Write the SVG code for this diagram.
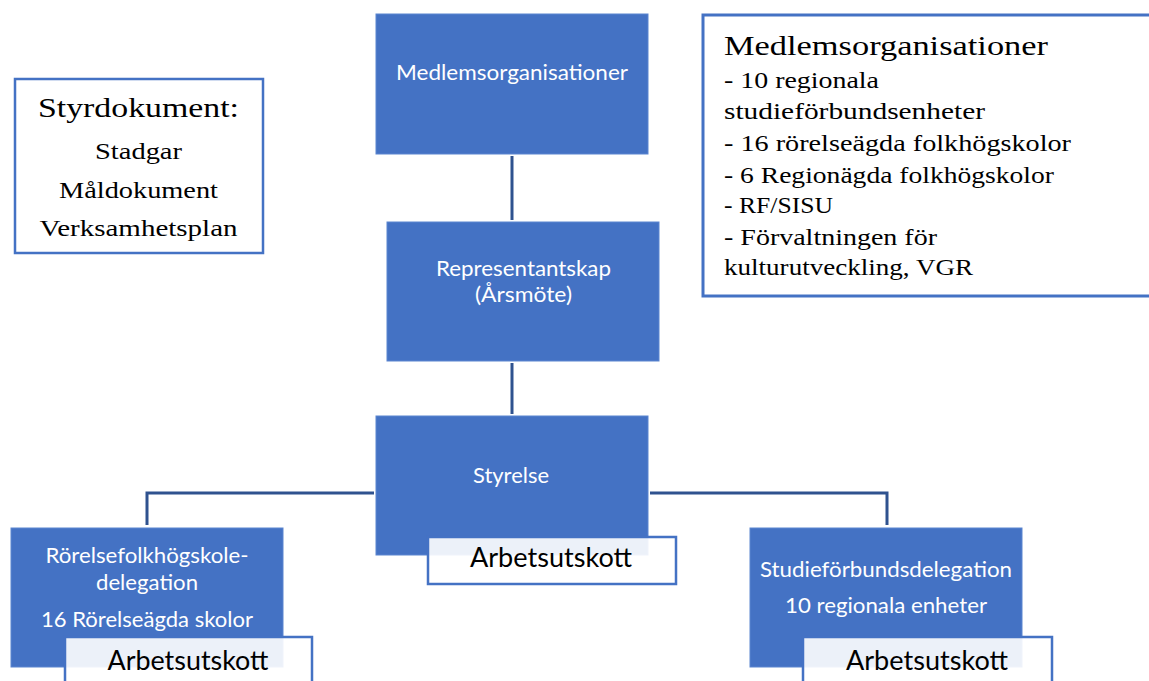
<svg xmlns="http://www.w3.org/2000/svg" width="1149" height="681" viewBox="0 0 1149 681">
<style>
.box{fill:#4472C4;stroke:#5B85D0;stroke-width:1}
.wt{fill:#ffffff;font-family:Lato,"Open Sans","Noto Sans",sans-serif;font-size:22px;text-anchor:middle}
.au{fill:#ffffff;fill-opacity:0.9;stroke:#4472C4;stroke-width:2.5}
.aut{fill:#000000;font-family:Lato,"Open Sans","Noto Sans",sans-serif;font-size:26px;text-anchor:middle}
.conn{fill:none;stroke:#2F528F;stroke-width:3}
.note{fill:#ffffff;stroke:#4472C4}
.st{fill:#000000;font-family:"Liberation Serif","DejaVu Serif",serif}
</style>
<rect width="1149" height="681" fill="#ffffff"/>
<g id="connectors">
<line class="conn" x1="512" y1="156" x2="512" y2="220"/>
<line class="conn" x1="512" y1="363" x2="512" y2="414"/>
<polyline class="conn" points="374,493 147,493 147,525"/>
<polyline class="conn" points="650,493 887,493 887,525"/>
</g>
<g id="styrdokument">
<rect class="note" x="15" y="79" width="248" height="174" stroke-width="2.5"/>
<text class="st" x="138.5" y="117" font-size="28" text-anchor="middle" textLength="201" lengthAdjust="spacingAndGlyphs">Styrdokument:</text>
<text class="st" x="138.5" y="159" font-size="23" text-anchor="middle" textLength="87" lengthAdjust="spacingAndGlyphs">Stadgar</text>
<text class="st" x="138.5" y="198" font-size="23" text-anchor="middle" textLength="159" lengthAdjust="spacingAndGlyphs">Måldokument</text>
<text class="st" x="138.5" y="236" font-size="23" text-anchor="middle" textLength="198" lengthAdjust="spacingAndGlyphs">Verksamhetsplan</text>
</g>
<g id="medlemslista">
<rect class="note" x="703" y="15" width="460" height="281" stroke-width="3"/>
<text class="st" x="724" y="55" font-size="27" textLength="324" lengthAdjust="spacingAndGlyphs">Medlemsorganisationer</text>
<text class="st" x="724" y="88" font-size="23" textLength="155" lengthAdjust="spacingAndGlyphs">- 10 regionala</text>
<text class="st" x="724" y="119" font-size="23" textLength="261" lengthAdjust="spacingAndGlyphs">studieförbundsenheter</text>
<text class="st" x="724" y="151" font-size="23" textLength="347" lengthAdjust="spacingAndGlyphs">- 16 rörelseägda folkhögskolor</text>
<text class="st" x="724" y="183" font-size="23" textLength="330" lengthAdjust="spacingAndGlyphs">- 6 Regionägda folkhögskolor</text>
<text class="st" x="724" y="213" font-size="23" textLength="109" lengthAdjust="spacingAndGlyphs">- RF/SISU</text>
<text class="st" x="724" y="245" font-size="23" textLength="213" lengthAdjust="spacingAndGlyphs">- Förvaltningen för</text>
<text class="st" x="724" y="275" font-size="23" textLength="249" lengthAdjust="spacingAndGlyphs">kulturutveckling, VGR</text>
</g>
<g id="medlemsorganisationer">
<rect class="box" x="376" y="14" width="272" height="140"/>
<text class="wt" x="512" y="80" textLength="232" lengthAdjust="spacingAndGlyphs">Medlemsorganisationer</text>
</g>
<g id="representantskap">
<rect class="box" x="387" y="222" width="272" height="139"/>
<text class="wt" x="523.5" y="276" textLength="175" lengthAdjust="spacingAndGlyphs">Representantskap</text>
<text class="wt" x="523.5" y="302" textLength="97" lengthAdjust="spacingAndGlyphs">(Årsmöte)</text>
</g>
<g id="styrelse">
<rect class="box" x="376" y="416" width="272" height="139"/>
<text class="wt" x="511" y="483" textLength="76" lengthAdjust="spacingAndGlyphs">Styrelse</text>
<rect class="au" x="428" y="537" width="248" height="47"/>
<text class="aut" x="551" y="567" textLength="162" lengthAdjust="spacingAndGlyphs">Arbetsutskott</text>
</g>
<g id="rorelsefolkhogskoledelegation">
<rect class="box" x="11" y="528" width="272" height="139"/>
<text class="wt" x="147" y="563" textLength="203" lengthAdjust="spacingAndGlyphs">Rörelsefolkhögskole-</text>
<text class="wt" x="147" y="590" textLength="102" lengthAdjust="spacingAndGlyphs">delegation</text>
<text class="wt" x="147" y="627" textLength="212" lengthAdjust="spacingAndGlyphs">16 Rörelseägda skolor</text>
<rect class="au" x="65" y="637" width="247" height="60"/>
<text class="aut" x="188" y="670" textLength="161" lengthAdjust="spacingAndGlyphs">Arbetsutskott</text>
</g>
<g id="studieforbundsdelegation">
<rect class="box" x="750" y="528" width="272" height="139"/>
<text class="wt" x="886" y="577" textLength="252" lengthAdjust="spacingAndGlyphs">Studieförbundsdelegation</text>
<text class="wt" x="886" y="613" textLength="202" lengthAdjust="spacingAndGlyphs">10 regionala enheter</text>
<rect class="au" x="803" y="637" width="249" height="60"/>
<text class="aut" x="927" y="670" textLength="162" lengthAdjust="spacingAndGlyphs">Arbetsutskott</text>
</g>
</svg>
